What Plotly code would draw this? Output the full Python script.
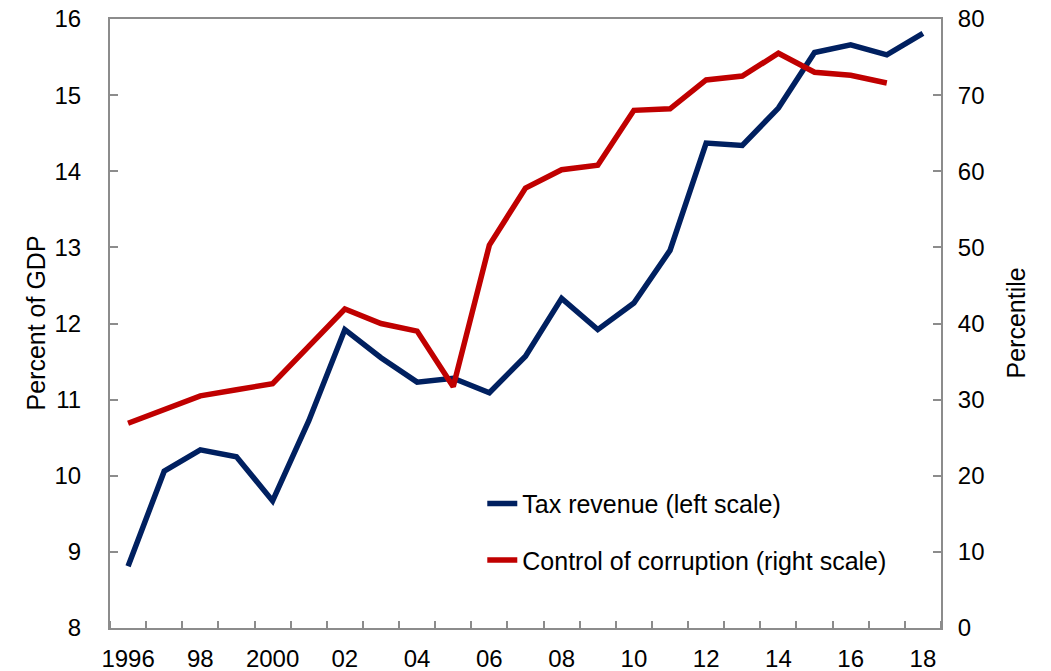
import plotly.graph_objects as go

years = list(range(1996, 2019))
tax_revenue = [8.81, 10.06, 10.34, 10.25, 9.67, 10.72, 11.92, 11.55, 11.23, 11.28,
               11.09, 11.57, 12.33, 11.92, 12.27, 12.96, 14.37, 14.34, 14.83, 15.56,
               15.66, 15.53, 15.81]
control_corruption = [26.9, 28.7, 30.5, 31.3, 32.1, 37.0, 41.9, 40.0, 39.0, 31.7,
                      50.3, 57.8, 60.2, 60.8, 68.0, 68.2, 72.0, 72.5, 75.5, 73.0,
                      72.6, 71.6, None]
tick_years = list(range(1996, 2019, 2))
tick_labels = ["1996", "98", "2000", "02", "04", "06", "08", "10", "12", "14", "16", "18"]

NAVY = "#002060"
RED = "#C00000"
AXIS = "#8C8C8C"
FONT = "Liberation Sans, Arial, sans-serif"

W, H = 1051, 671
L, T = 110, 19
PW = 831
PH = 609.5

fig = go.Figure()
fig.add_trace(go.Scatter(x=years, y=tax_revenue, mode="lines", name="Tax revenue (left scale)",
                         line=dict(color=NAVY, width=5.5), yaxis="y", legendgroup="a"))
fig.add_trace(go.Scatter(x=years, y=control_corruption, mode="lines",
                         name="Control of corruption (right scale)",
                         line=dict(color=RED, width=5.5), yaxis="y2", legendgroup="b",
                         connectgaps=False))

fig.update_layout(
    width=W, height=H,
    margin=dict(l=L, r=W - L - PW, t=T, b=H - T - PH),
    paper_bgcolor="white", plot_bgcolor="white",
    font=dict(family=FONT, size=24, color="black"),
    showlegend=True,
    legend=dict(x=0.448, y=0.158, xanchor="left", yanchor="middle",
                bgcolor="rgba(0,0,0,0)", font=dict(size=25, family=FONT),
                tracegroupgap=21, itemwidth=30),
    xaxis=dict(range=[1995.5, 2018.5], tickmode="array", tickvals=tick_years,
               ticktext=tick_labels, ticks="", showline=True, linecolor=AXIS,
               linewidth=2, mirror=True, showgrid=False, zeroline=False,
               automargin=False, ticklabelstandoff=8, ticklabeloverflow="allow",
               minor=dict(tickmode="linear", tick0=1995.5, dtick=1, ticks="inside",
                          ticklen=7, tickcolor=AXIS, tickwidth=2, showgrid=False),
               tickfont=dict(size=24)),
    yaxis=dict(range=[8, 16], dtick=1, tick0=8, ticks="inside", ticklen=8,
               tickcolor=AXIS, tickwidth=2, showline=True, linecolor=AXIS, linewidth=2,
               showgrid=False, zeroline=False, automargin=False,
               ticklabelstandoff=22, ticklabeloverflow="allow", tickfont=dict(size=24)),
    yaxis2=dict(range=[0, 80], dtick=10, tick0=0, ticks="inside", ticklen=8,
                tickcolor=AXIS, tickwidth=2, showline=True, linecolor=AXIS, linewidth=2,
                showgrid=False, zeroline=False, overlaying="y", side="right",
                automargin=False, ticklabelstandoff=10, ticklabeloverflow="allow",
                tickfont=dict(size=24)),
    annotations=[
        dict(text="Percent of GDP", xref="paper", yref="paper", x=(35 - 110) / PW,
             y=0.5, xanchor="center", yanchor="middle", textangle=-90,
             showarrow=False, font=dict(size=25, family=FONT)),
        dict(text="Percentile", xref="paper", yref="paper", x=(1015 - 110) / PW,
             y=0.5, xanchor="center", yanchor="middle", textangle=-90,
             showarrow=False, font=dict(size=25, family=FONT)),
    ],
)

fig.write_html("out.html",
               config={"displayModeBar": False},
               post_script="document.body.style.margin='0';document.body.style.overflow='hidden';")
